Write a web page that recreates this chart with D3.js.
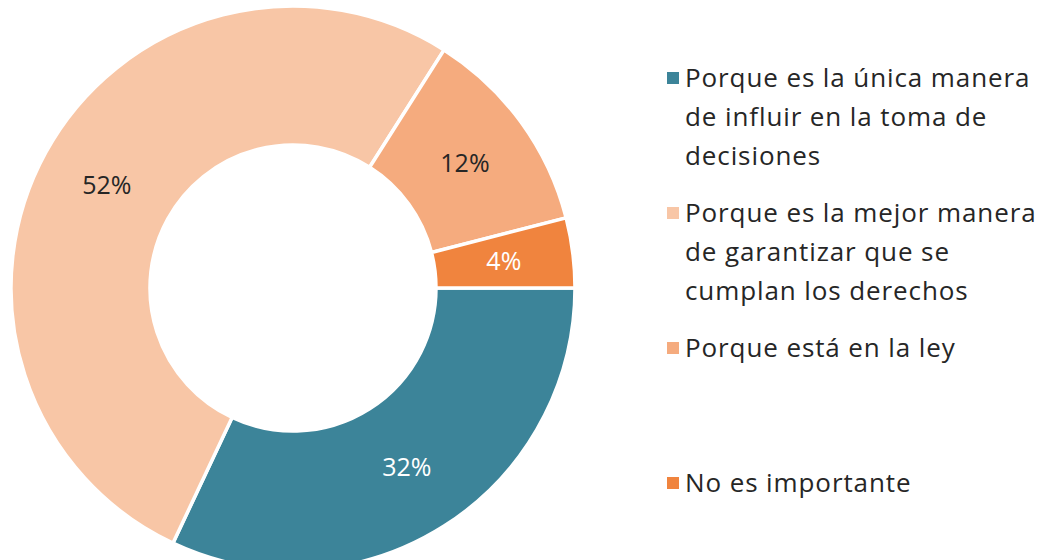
<!DOCTYPE html>
<html>
<head>
<meta charset="utf-8">
<script src="https://cdn.jsdelivr.net/npm/d3@7"></script>
<style>
  body { margin: 0; background: #fff; }
  text { font-family: "Open Sans", "Noto Sans", sans-serif; }
</style>
</head>
<body>
<svg class="svg"></svg>
<script>
// data
var categories = [
  ['Porque es la única manera', 'de influir en la toma de', 'decisiones'],
  ['Porque es la mejor manera', 'de garantizar que se', 'cumplan los derechos'],
  ['Porque está en la ley'],
  ['No es importante']
];
var values = [32, 52, 12, 4];
var colors = ['#3c8499', '#f8c6a6', '#f5ab7e', '#f0843e'];
var labelColors = ['#ffffff', '#262626', '#262626', '#ffffff'];

var width = 1041, height = 560;
var cx = 293, cy = 288, outerR = 282, innerR = 143;

var svg = d3.select('.svg')
    .attr('width', width)
    .attr('height', height);

var data = values.map(function(v, i){ return { value: v, i: i }; });

var pie = d3.pie()
    .value(function(d){ return d.value; })
    .sort(null)
    .startAngle(Math.PI / 2)
    .endAngle(Math.PI / 2 + 2 * Math.PI);

var arc = d3.arc()
    .innerRadius(innerR)
    .outerRadius(outerR);

var g = svg.append('g')
    .attr('transform', 'translate(' + cx + ',' + cy + ')');

g.selectAll('path')
    .data(pie(data))
    .enter()
    .append('path')
    .attr('d', arc)
    .attr('fill', function(d){ return colors[d.data.i]; })
    .attr('stroke', '#ffffff')
    .attr('stroke-width', 3.5);

// percentage labels
g.selectAll('text.lbl')
    .data(pie(data))
    .enter()
    .append('text')
    .attr('class', 'lbl')
    .attr('transform', function(d){ return 'translate(' + arc.centroid(d) + ')'; })
    .attr('dy', '0.35em')
    .attr('text-anchor', 'middle')
    .attr('font-size', '25px')
    .attr('fill', function(d){ return labelColors[d.data.i]; })
    .text(function(d){ return d.data.value + '%'; });

// legend
var legendX = 667, legendY = 78, itemStep = 135, lineStep = 39;

var legend = svg.selectAll('g.legend')
    .data(categories)
    .enter()
    .append('g')
    .attr('class', 'legend')
    .attr('transform', function(d, i){ return 'translate(' + legendX + ',' + (legendY + i * itemStep) + ')'; });

legend.append('rect')
    .attr('x', 0)
    .attr('y', -6)
    .attr('width', 12)
    .attr('height', 12)
    .attr('fill', function(d, i){ return colors[i]; });

legend.each(function(lines){
    var t = d3.select(this).append('text')
        .attr('x', 18)
        .attr('font-size', '26px')
        .attr('letter-spacing', '0.9px')
        .attr('fill', '#262626');
    lines.forEach(function(line, j){
        t.append('tspan')
            .attr('x', 18)
            .attr('y', j * lineStep)
            .attr('dy', '0.35em')
            .text(line);
    });
});
</script>
</body>
</html>
